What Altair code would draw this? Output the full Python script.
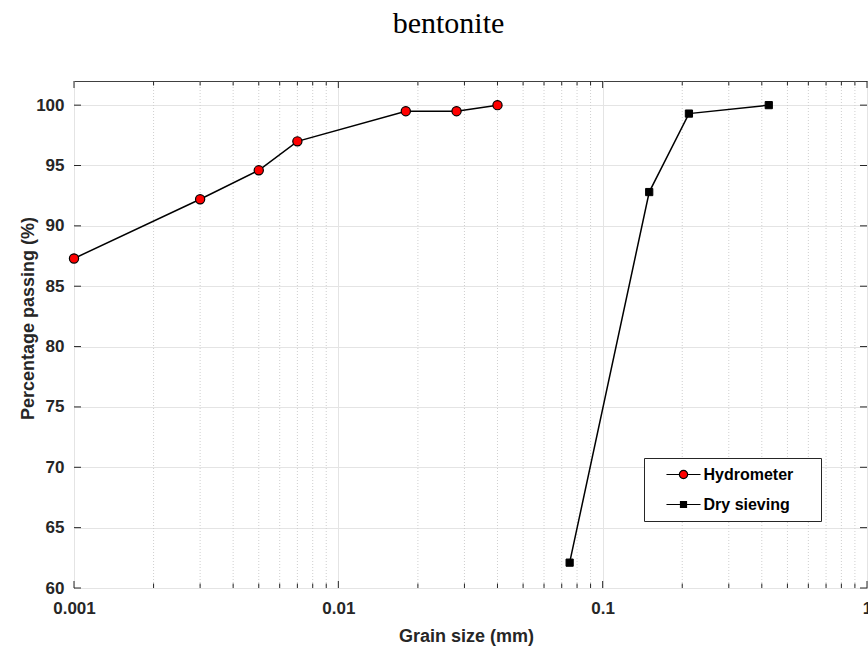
import altair as alt
import pandas as pd

# ---------------- data ----------------
series_names = ["Hydrometer", "Dry sieving"]

hydro_size = [0.001, 0.003, 0.005, 0.007, 0.018, 0.028, 0.040]
hydro_pass = [87.3, 92.2, 94.6, 97.0, 99.5, 99.5, 100.0]

sieve_size = [0.075, 0.150, 0.212, 0.425]
sieve_pass = [62.1, 92.8, 99.3, 100.0]

x_major = [0.001, 0.01, 0.1, 1]
x_minor = [0.002, 0.003, 0.004, 0.005, 0.006, 0.007, 0.008, 0.009,
           0.02, 0.03, 0.04, 0.05, 0.06, 0.07, 0.08, 0.09,
           0.2, 0.3, 0.4, 0.5, 0.6, 0.7, 0.8, 0.9]
y_ticks = [60, 65, 70, 75, 80, 85, 90, 95, 100]

# ---------------- tables ----------------
hydro_df = pd.DataFrame({"gs": hydro_size, "pp": hydro_pass, "series": series_names[0]})
sieve_df = pd.DataFrame({"gs": sieve_size, "pp": sieve_pass, "series": series_names[1]})
all_df = pd.concat([hydro_df, sieve_df], ignore_index=True)
major_df = pd.DataFrame({"gs": x_major})
minor_df = pd.DataFrame({"gs": x_minor})
yt_df = pd.DataFrame({"pp": y_ticks})

W, H = 793, 507
FONT = "Liberation Sans"
AX = "#262626"

xscale = alt.Scale(type="log", domain=[0.001, 1])
yscale = alt.Scale(domain=[60, 102], nice=False, zero=False)

xaxis = alt.Axis(values=x_major, format="~g", title="Grain size (mm)",
                 grid=True, gridColor="#e4e4e4", gridWidth=1,
                 ticks=False, domain=False, labelPadding=12,
                 labelFont=FONT, labelFontSize=17, labelFontWeight="bold",
                 labelColor=AX, labelFlush=False, labelOverlap=False,
                 titleFont=FONT, titleFontSize=18, titleFontWeight="bold",
                 titleColor=AX, titleX=392, titleY=53,
                 titleBaseline="alphabetic")
yaxis = alt.Axis(values=y_ticks, title="Percentage passing (%)",
                 grid=True, gridColor="#e4e4e4", gridWidth=1,
                 ticks=False, domain=False, labelPadding=10,
                 labelFont=FONT, labelFontSize=17, labelFontWeight="bold",
                 labelColor=AX,
                 titleFont=FONT, titleFontSize=18, titleFontWeight="bold",
                 titleColor=AX, titleX=-41, titleY=237,
                 titleBaseline="alphabetic")

X = alt.X("gs:Q", scale=xscale, axis=xaxis)
Y = alt.Y("pp:Q", scale=yscale, axis=yaxis)

# minor dotted grid
minor_grid = alt.Chart(minor_df).mark_rule(
    color="#cfcfcf", strokeWidth=1, strokeDash=[1, 2]
).encode(x=X, y=alt.value(0), y2=alt.value(H))

lines = alt.Chart(all_df).mark_line(color="black", strokeWidth=1.5).encode(
    x=X, y=Y, detail="series:N"
)
hydro_pts = alt.Chart(hydro_df).mark_point(
    shape="circle", filled=True, fill="#ff0000", stroke="black",
    strokeWidth=1.2, size=85, opacity=1
).encode(x=X, y=Y)
sieve_pts = alt.Chart(sieve_df).mark_point(
    shape="square", filled=True, fill="black", stroke="black",
    strokeWidth=1, size=52, opacity=1
).encode(x=X, y=Y)

# legend-only layer (invisible marks)
circle_path = "M1,0A1,1 0 1,1 -1,0A1,1 0 1,1 1,0Z M-4.1,0H-1 M1,0H4.1"
square_path = "M-0.72,-0.72H0.72V0.72H-0.72Z M-4.1,0H-0.72 M0.72,0H4.1"
leg = alt.Legend(title="M", titleOrient="right", titleOpacity=0,
                 titleFontSize=16, titlePadding=5,
                 orient="none", legendX=570, legendY=377,
                 padding=8.5, rowPadding=14, symbolOffset=23, labelOffset=12,
                 labelFont=FONT, labelFontSize=16, labelFontWeight="bold",
                 labelColor="black", fillColor="white", strokeColor=AX,
                 symbolStrokeWidth=1.2, symbolStrokeColor="black",
                 symbolSize=69, symbolOpacity=1)
legend_layer = alt.Chart(all_df).mark_point(filled=True, opacity=0, size=69).encode(
    x=X, y=Y,
    shape=alt.Shape("series:N", scale=alt.Scale(domain=series_names,
                    range=[circle_path, square_path]), legend=leg),
    fill=alt.Fill("series:N", scale=alt.Scale(domain=series_names,
                  range=["#ff0000", "#000000"]), legend=leg),
    stroke=alt.Stroke("series:N", scale=alt.Scale(domain=series_names,
                      range=["#000000", "#000000"]), legend=leg),
)

# inward ticks
tick_col = AX
xb_major = alt.Chart(major_df).mark_rule(color=tick_col, strokeWidth=1).encode(
    x=X, y=alt.value(H), y2=alt.value(H - 7))
xt_major = alt.Chart(major_df).mark_rule(color=tick_col, strokeWidth=1).encode(
    x=X, y=alt.value(0), y2=alt.value(7))
xb_minor = alt.Chart(minor_df).mark_rule(color=tick_col, strokeWidth=1).encode(
    x=X, y=alt.value(H), y2=alt.value(H - 4.5))
xt_minor = alt.Chart(minor_df).mark_rule(color=tick_col, strokeWidth=1).encode(
    x=X, y=alt.value(0), y2=alt.value(4.5))
yl = alt.Chart(yt_df).mark_rule(color=tick_col, strokeWidth=1).encode(
    y=Y, x=alt.value(0), x2=alt.value(7))
yr = alt.Chart(yt_df).mark_rule(color=tick_col, strokeWidth=1).encode(
    y=Y, x=alt.value(W), x2=alt.value(W - 7))

chart = alt.layer(
    minor_grid, lines, hydro_pts, sieve_pts, legend_layer,
    xb_major, xt_major, xb_minor, xt_minor, yl, yr
).properties(
    width=W, height=H,
    title=alt.TitleParams("bentonite", font="Liberation Serif", fontSize=30,
                          fontWeight="normal", color="black", anchor="middle",
                          dx=-22, offset=18, baseline="alphabetic"),
    autosize=alt.AutoSizeParams(type="none"),
    padding={"left": 74, "top": 81, "right": 1, "bottom": 60},
    background="white",
).configure_view(stroke="#404040", strokeWidth=1)

chart.save("out.html", embed_options={"renderer": "svg", "actions": False})
